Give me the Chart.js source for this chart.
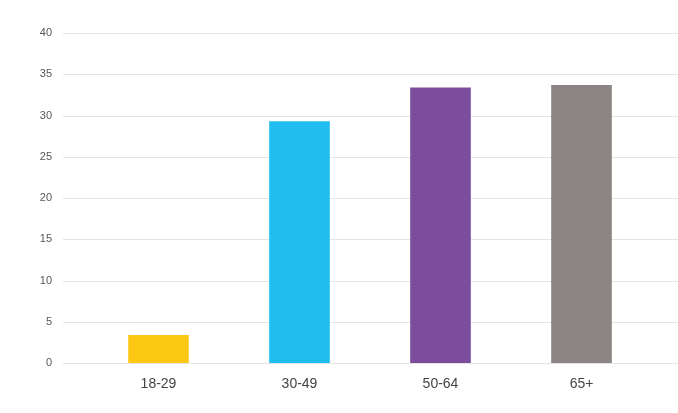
<!DOCTYPE html>
<html>
<head>
<meta charset="utf-8">
<script src="https://cdn.jsdelivr.net/npm/chart.js@4"></script>
<style>
  html, body { margin: 0; padding: 0; background: #fff; }
  #wrap { width: 678px; height: 413px; }
</style>
</head>
<body>
<div id="wrap"><canvas id="ageChart"></canvas></div>
<script>
const ageGroups = ['18-29', '30-49', '50-64', '65+'];
const shares = [3.4, 29.3, 33.4, 33.7];
const barColors = ['#FCC814', '#1FBEEF', '#7C4D9C', '#8B8483'];
const yTicks = [0, 5, 10, 15, 20, 25, 30, 35, 40];

// gridlines run wider than the plot area in the original
const wideGrid = {
    id: 'wideGrid',
    beforeDatasetsDraw(chart) {
        const ctx = chart.ctx;
        const y = chart.scales.y;
        ctx.save();
        ctx.strokeStyle = '#e4e4e4';
        ctx.lineWidth = 1;
        yTicks.forEach(v => {
            const py = Math.round(y.getPixelForValue(v)) + 0.5;
            ctx.beginPath();
            ctx.moveTo(63, py);
            ctx.lineTo(chart.width, py);
            ctx.stroke();
        });
        ctx.restore();
    }
};

const ctxAge = document.getElementById('ageChart').getContext('2d');
const ageChart = new Chart(ctxAge, {
    type: 'bar',
    data: {
        labels: ageGroups,
        datasets: [{
            data: shares,
            backgroundColor: barColors,
            barPercentage: 0.43,
            categoryPercentage: 1
        }]
    },
    options: {
        responsive: true,
        maintainAspectRatio: false,
        animation: false,
        layout: { padding: { top: 33, right: 26, left: 0, bottom: 0 } },
        plugins: { legend: { display: false }, tooltip: { enabled: false } },
        scales: {
            x: {
                grid: { display: false },
                border: { display: false },
                ticks: {
                    color: '#444',
                    padding: 5,
                    font: { family: 'Liberation Sans', size: 14 }
                },
                afterFit: s => { s.height = 50; }
            },
            y: {
                min: 0,
                max: 40,
                grid: { display: false },
                border: { display: false },
                ticks: {
                    stepSize: 5,
                    color: '#555',
                    padding: 28,
                    font: { family: 'Liberation Sans', size: 11 }
                },
                afterFit: s => { s.width = 88; s.paddingTop = 0; s.paddingBottom = 0; }
            }
        }
    },
    plugins: [wideGrid]
});
</script>
</body>
</html>
